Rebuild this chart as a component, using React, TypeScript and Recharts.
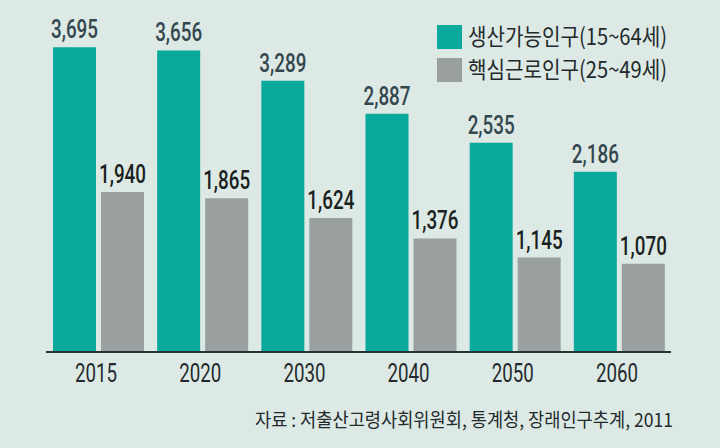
import React from "react";
import { BarChart, Bar, XAxis, YAxis, LabelList } from "recharts";

const years = ["2015", "2020", "2030", "2040", "2050", "2060"];
const workingAge = [3695, 3656, 3289, 2887, 2535, 2186];
const coreWorkers = [1940, 1865, 1624, 1376, 1145, 1070];
const seriesNames = ["생산가능인구(15~64세)", "핵심근로인구(25~49세)"];
const sourceText = "자료 : 저출산고령사회위원회, 통계청, 장래인구추계, 2011";

const data = years.map((y, i) => ({ year: y, a: workingAge[i], b: coreWorkers[i] }));

const BG = "#dde9e4";
const TEAL = "#0aa99d";
const GRAY = "#9a9f9f";
const FONT = "Roboto, 'Liberation Sans', 'Noto Sans CJK KR', sans-serif";
const KFONT = "'Noto Sans CJK KR', 'Liberation Sans', sans-serif";

const fmt = (v: number) => v.toLocaleString("en-US");

const makeLabel = (color: string) => (props: any) => {
  const { x, y, width, value } = props;
  return (
    <text
      x={Number(x) + Number(width) / 2}
      y={Number(y) - 9}
      textAnchor="middle"
      fontFamily={FONT}
      fontWeight={500}
      fontSize={25}
      fill={color}
      textLength={47}
      lengthAdjust="spacingAndGlyphs"
    >
      {fmt(Number(value))}
    </text>
  );
};

const Tick = (props: any) => {
  const { x, payload } = props;
  return (
    <text
      x={Number(x) - 2}
      y={382}
      textAnchor="middle"
      fontFamily={FONT}
      fontSize={26}
      fill="#23292c"
      textLength={42}
      lengthAdjust="spacingAndGlyphs"
    >
      {payload.value}
    </text>
  );
};

export default function App() {
  return (
    <div
      style={{
        position: "absolute",
        left: 0,
        top: 0,
        width: 720,
        height: 448,
        background: BG,
        overflow: "hidden",
      }}
    >
      <BarChart
        width={720}
        height={448}
        data={data}
        margin={{ top: 22, right: 49, bottom: 66, left: 46 }}
        barGap={5}
        barSize={43}
      >
        <YAxis hide domain={[0, 4000]} />
        <XAxis
          dataKey="year"
          height={30}
          axisLine={{ stroke: "#253238", strokeWidth: 2 }}
          tickLine={false}
          tick={<Tick />}
          interval={0}
        />
        <Bar dataKey="a" fill={TEAL} isAnimationActive={false}>
          <LabelList dataKey="a" content={makeLabel("#34474f")} />
        </Bar>
        <Bar dataKey="b" fill={GRAY} isAnimationActive={false}>
          <LabelList dataKey="b" content={makeLabel("#1a1f22")} />
        </Bar>
      </BarChart>
      <svg
        width={720}
        height={448}
        style={{ position: "absolute", left: 0, top: 0, pointerEvents: "none" }}
      >
        {[TEAL, GRAY].map((c, i) => (
          <g key={i}>
            <rect x={437} y={25 + i * 33} width={25} height={24} fill={c} />
            <text
              x={468}
              y={45 + i * 33}
              fontFamily={KFONT}
              fontSize={23}
              fill="#23292c"
              textLength={199}
              lengthAdjust="spacingAndGlyphs"
            >
              {seriesNames[i]}
            </text>
          </g>
        ))}
        <text
          x={255}
          y={427}
          fontFamily={KFONT}
          fontSize={19}
          fill="#23292c"
          textLength={418}
          lengthAdjust="spacingAndGlyphs"
        >
          {sourceText}
        </text>
      </svg>
    </div>
  );
}
